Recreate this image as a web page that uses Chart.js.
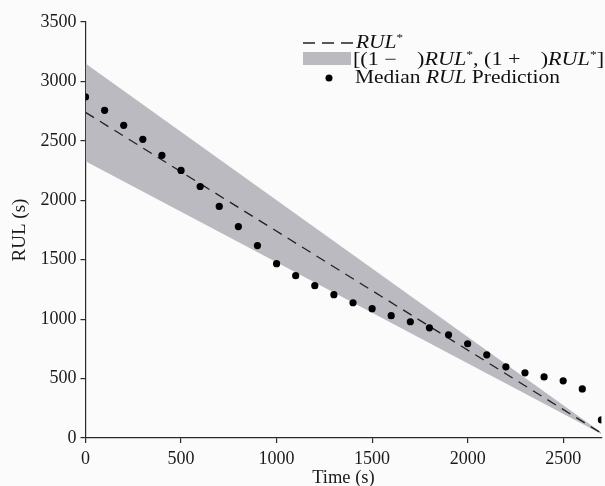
<!DOCTYPE html>
<html><head><meta charset="utf-8">
<script src="https://cdn.jsdelivr.net/npm/chart.js@4"></script>
<style>html,body{margin:0;padding:0;background:#fbfbfb;overflow:hidden}#wrap{width:605px;height:486px;position:relative}</style>
</head><body><div id="wrap"><canvas id="c"></canvas></div>
<script>
// ---- data ----
const timeSteps = [0,100,200,300,400,500,600,700,800,900,1000,1100,1200,1300,1400,1500,1600,1700,1800,1900,2000,2100,2200,2300,2400,2500,2600,2700];
const medianRUL = [2870,2757,2631,2513,2378,2251,2116,1948,1779,1619,1467,1366,1282,1206,1138,1088,1029,978,927,868,793,700,599,548,514,481,413,152];
const refTime = [0, 2700];
const rulStar = [2740, 40];
const bandUpper = [3151, 46];
const bandLower = [2329, 34];
const xTickValues = [0,500,1000,1500,2000,2500];
const yTickValues = [0,500,1000,1500,2000,2500,3000,3500];

const pts = (xs, ys) => xs.map((x, i) => ({x: x, y: ys[i]}));
const SERIF = '"Liberation Serif", "Times New Roman", serif';
const AXIS = '#2a2a2a';
const BAND = 'rgb(186,186,192)';

const legendPlugin = {
  id: 'customLegend',
  afterDraw(chart) {
    const ctx = chart.ctx;
    const fs = 18;
    const up = `${fs}px ${SERIF}`, it = `italic ${fs}px ${SERIF}`, sup = `${Math.round(fs*0.62)}px ${SERIF}`;
    const widthOf = segs => segs.reduce((w, s) => { ctx.font = s.f; return w + ctx.measureText(s.t).width + (s.gap || 0); }, 0);
    const drawSegs = (x, y, segs, target) => {
      ctx.save();
      const w = widthOf(segs);
      const k = target ? target / w : 1;
      ctx.translate(x, y);
      ctx.scale(k, 1);
      ctx.textBaseline = 'alphabetic';
      ctx.textAlign = 'left';
      ctx.fillStyle = '#111';
      let cx = 0;
      for (const s of segs) {
        ctx.font = s.f;
        const dy = s.f === sup ? -7 : 0;
        ctx.fillText(s.t, cx, dy);
        cx += ctx.measureText(s.t).width + (s.gap || 0);
      }
      ctx.restore();
      return k;
    };
    const row1 = [{t:'RUL', f:it}, {t:'*', f:sup}];
    const row2 = [{t:'[(1 \u2212 ', f:up, gap:12}, {t:')', f:up}, {t:'RUL', f:it}, {t:'*', f:sup}, {t:', (1 + ', f:up, gap:12}, {t:')', f:up}, {t:'RUL', f:it}, {t:'*', f:sup}, {t:']', f:up}];
    const row3 = [{t:'Median ', f:up}, {t:'RUL', f:it}, {t:' Prediction', f:up}];
    ctx.save();
    // row 1: dashed line sample (three dashes)
    ctx.strokeStyle = '#222'; ctx.lineWidth = 1.3; ctx.setLineDash([12, 7]);
    ctx.beginPath(); ctx.moveTo(303, 43); ctx.lineTo(353, 43); ctx.stroke();
    ctx.setLineDash([]);
    // row 2: band swatch
    ctx.fillStyle = BAND;
    ctx.fillRect(303, 52, 48, 13);
    // row 3: dot
    ctx.fillStyle = '#000';
    ctx.beginPath(); ctx.arc(329, 78, 3.5, 0, Math.PI*2); ctx.fill();
    ctx.restore();
    const k3 = drawSegs(355, 83, row3, 205);
    drawSegs(356, 48, row1, widthOf(row1) * k3);
    drawSegs(353, 65, row2, 251);
  }
};

new Chart(document.getElementById('c'), {
  type: 'scatter',
  data: {
    datasets: [
      { label: 'median', data: pts(timeSteps, medianRUL), showLine: false, pointRadius: 3.6, pointHoverRadius: 3.6,
        backgroundColor: '#000', borderColor: '#000', borderWidth: 0, order: 0 },
      { label: 'rulstar', data: pts(refTime, rulStar), showLine: true, pointRadius: 0, borderColor: '#222',
        borderWidth: 1.3, borderDash: [10, 7], fill: false, order: 1 },
      { label: 'upper', data: pts(refTime, bandUpper), showLine: true, pointRadius: 0, borderWidth: 0,
        borderColor: 'rgba(0,0,0,0)', backgroundColor: BAND, fill: '+1', order: 2 },
      { label: 'lower', data: pts(refTime, bandLower), showLine: true, pointRadius: 0, borderWidth: 0,
        borderColor: 'rgba(0,0,0,0)', fill: false, order: 3 }
    ]
  },
  options: {
    responsive: true, maintainAspectRatio: false, animation: false,
    layout: { padding: { top: 22, right: 2, left: 10, bottom: 0 } },
    plugins: { legend: { display: false }, tooltip: { enabled: false } },
    scales: {
      x: {
        type: 'linear', min: 0, max: 2700, position: 'bottom',
        afterFit: s => { s.height = 48; },
        afterBuildTicks: s => { s.ticks = xTickValues.map(v => ({value: v})); },
        ticks: { font: { family: SERIF, size: 18 }, color: '#1a1a1a', padding: 5, maxRotation: 0,
                 callback: v => String(v) },
        grid: { display: true, drawOnChartArea: false, drawTicks: true, tickLength: 5, color: AXIS, lineWidth: 1.2 },
        border: { display: true, color: AXIS, width: 1.2 },
        title: { display: true, text: 'Time (s)', font: { family: SERIF, size: 18.5, lineHeight: 0.8 }, color: '#1a1a1a', padding: 0 }
      },
      y: {
        type: 'linear', min: 0, max: 3500,
        afterFit: s => { s.width = 75.5; },
        afterBuildTicks: s => { s.ticks = yTickValues.map(v => ({value: v})); },
        ticks: { font: { family: SERIF, size: 18 }, color: '#1a1a1a', padding: 4,
                 callback: v => String(v) },
        grid: { display: true, drawOnChartArea: false, drawTicks: true, tickLength: 5, color: AXIS, lineWidth: 1.2 },
        border: { display: true, color: AXIS, width: 1.2 },
        title: { display: true, text: 'RUL (s)', font: { family: SERIF, size: 19, lineHeight: 1.05 }, color: '#1a1a1a', padding: 0 }
      }
    }
  },
  plugins: [legendPlugin]
});
</script></body></html>
